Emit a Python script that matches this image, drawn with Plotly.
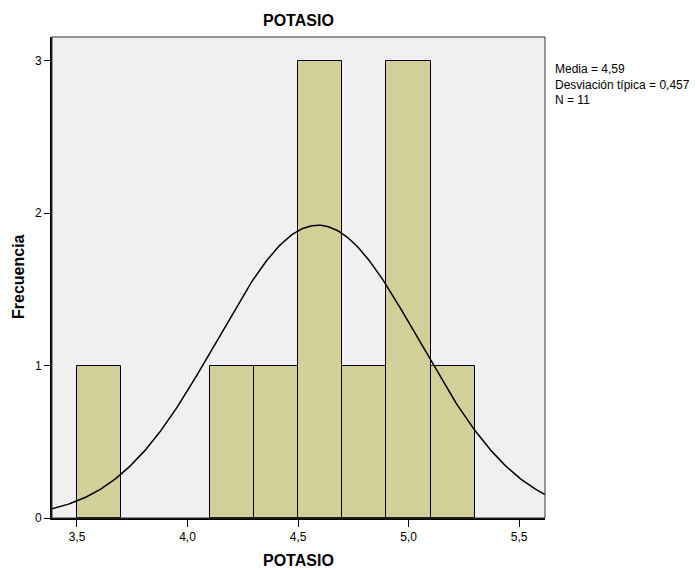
import numpy as np
import plotly.graph_objects as go

bin_left = [3.5, 4.1, 4.3, 4.5, 4.7, 4.9, 5.1]
counts = [1, 1, 1, 3, 1, 3, 1]
bin_width = 0.2
mean = 4.59
sd = 0.457
n = 11
x_ticks = [3.5, 4.0, 4.5, 5.0, 5.5]
x_tick_labels = ["3,5", "4,0", "4,5", "5,0", "5,5"]
y_ticks = [0, 1, 2, 3]

x_range = [3.387, 5.617]
y_range = [0, 3.155]

centers = [b + bin_width / 2 for b in bin_left]
xc = np.linspace(x_range[0], x_range[1], 300)
yc = n * bin_width * np.exp(-0.5 * ((xc - mean) / sd) ** 2) / (sd * np.sqrt(2 * np.pi))

fig = go.Figure()
fig.add_trace(go.Bar(x=centers, y=counts, width=bin_width,
                     marker=dict(color="#d3cf99", line=dict(color="black", width=1)),
                     showlegend=False, hoverinfo="skip"))
fig.add_trace(go.Scatter(x=xc, y=yc, mode="lines", line=dict(color="black", width=1.5),
                         showlegend=False, hoverinfo="skip"))

fig.add_shape(type="rect", xref="paper", yref="paper", x0=0, y0=0, x1=1, y1=1,
              line=dict(color="#333333", width=1))

H_PLOT = 570 - 37 - 52
W_PLOT = 696 - 52 - 151

fig.update_layout(
    width=696, height=570,
    margin=dict(l=52, r=151, t=37, b=52, autoexpand=False),
    paper_bgcolor="white", plot_bgcolor="#f0f0f0",
    font=dict(family="Arial, Liberation Sans, sans-serif", color="black", size=12),
    bargap=0,
    xaxis=dict(range=x_range, tickvals=x_ticks, ticktext=x_tick_labels,
               ticks="outside", ticklen=7, tickcolor="black", tickwidth=1,
               showgrid=False, zeroline=False, showline=True, linecolor="black", linewidth=2,
               automargin=False, tickfont=dict(size=12)),
    yaxis=dict(range=y_range, tickvals=y_ticks, ticks="outside", ticklen=6,
               tickcolor="black", tickwidth=1,
               showgrid=False, zeroline=False, showline=True, linecolor="black", linewidth=2,
               automargin=False, tickfont=dict(size=12)),
    annotations=[
        dict(text="<b>POTASIO</b>", xref="paper", yref="paper", x=0.5, y=1 + (37 - 20) / H_PLOT,
             xanchor="center", yanchor="middle", showarrow=False, font=dict(size=16)),
        dict(text="<b>POTASIO</b>", xref="paper", yref="paper", x=(298 - 52) / W_PLOT,
             y=-(560 - 518) / H_PLOT, xanchor="center", yanchor="middle", showarrow=False,
             font=dict(size=16)),
        dict(text="<b>Frecuencia</b>", xref="paper", yref="paper", x=-(52 - 18) / W_PLOT,
             y=(518 - 277) / H_PLOT, xanchor="center", yanchor="middle", textangle=-90,
             showarrow=False, font=dict(size=16)),
        dict(text="Media = 4,59<br>Desviación típica = 0,457<br>N = 11",
             xref="paper", yref="paper", x=1 + 8 / W_PLOT, y=1 - (60 - 37) / H_PLOT,
             xanchor="left", yanchor="top", align="left", showarrow=False,
             font=dict(size=12)),
    ],
)

fig.write_html("out.html")
